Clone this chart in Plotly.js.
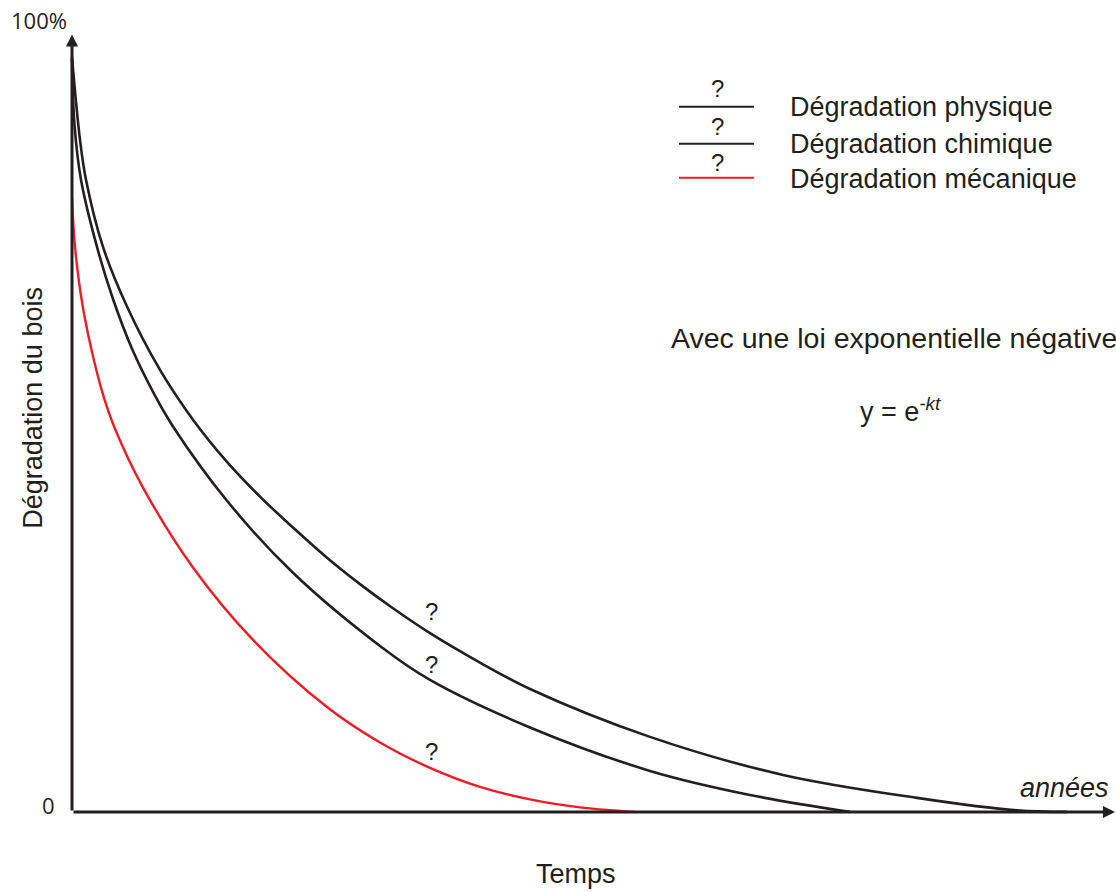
<!DOCTYPE html>
<html><head><meta charset="utf-8">
<script src="https://cdn.plot.ly/plotly-3.0.1.min.js"></script>
<style>html,body{margin:0;padding:0;background:#fff}#chart{width:1116px;height:892px}</style>
</head><body><div id="chart"></div>
<script>
// Values (time in arbitrary units, degradation in %)
const physiqueT = [0, 0.8, 1.4, 3.1, 5.5, 8.8, 12.1, 15.5, 18.8, 22.1, 25.5, 28.8, 32.1, 35.8, 40.8, 45.8, 57.8, 71.1, 84.5, 94.5, 99.5];
const physiqueY = [100, 89.1, 83.8, 74.9, 67.0, 58.6, 52.0, 46.4, 41.8, 37.7, 33.7, 30.2, 27.0, 23.7, 19.8, 16.3, 9.95, 4.9, 1.86, 0.2, 0];
const chimiqueT = [0, 0.25, 0.9, 2.5, 4.1, 6.1, 8.3, 10.1, 15.5, 22.1, 30.9, 35.8, 45.8, 57.8, 67.8, 77.8];
const chimiqueY = [100, 91.1, 83.8, 74.9, 68.0, 61.1, 55.2, 51.1, 41.25, 31.7, 21.9, 17.5, 11.2, 5.44, 2.25, 0];
const mecaniqueT = [0, 0.3, 1.1, 2.4, 3.2, 4.3, 7.1, 12.1, 18.1, 25.5, 30.8, 35.8, 40.8, 45.8, 50.8, 56.3];
const mecaniqueY = [81.4, 74.9, 66.8, 58.75, 54.9, 50.8, 43.0, 32.4, 22.8, 13.9, 9.2, 5.84, 3.32, 1.66, 0.6, 0];
const seriesNames = ['Dégradation physique', 'Dégradation chimique', 'Dégradation mécanique'];

const BLACK = '#231f20', RED = '#ed1c24';
const FONT = 'Liberation Sans, Arial, sans-serif';
const FONT2 = 'Open Sans, sans-serif';
// pixel -> paper helpers (text placement only)
const L = 62, B = 64.92, W = 1054, H = 892 - 35.38 - 64.92;
const PPX = p => (p - L) / W;
const PPY = p => (892 - B - p) / H;
// pixel -> axis helpers (legend line placement only)
const PX = p => -1 + (p - 62) / 10;
const PY = p => (812 - p) / 7.54;

const traces = [
  {x: physiqueT, y: physiqueY, name: seriesNames[0], mode: 'lines', line: {color: BLACK, width: 2.6, shape: 'spline', smoothing: 1}},
  {x: chimiqueT, y: chimiqueY, name: seriesNames[1], mode: 'lines', line: {color: BLACK, width: 2.6, shape: 'spline', smoothing: 1}},
  {x: mecaniqueT, y: mecaniqueY, name: seriesNames[2], mode: 'lines', line: {color: RED, width: 2.4, shape: 'spline', smoothing: 1}}
];

function txt(px, py, text, size, opts) {
  return Object.assign({x: PPX(px), y: PPY(py), xref: 'paper', yref: 'paper', text: text, showarrow: false,
    font: {family: FONT, size: size, color: BLACK}, xanchor: 'center', yanchor: 'middle'}, opts || {});
}

const annotations = [
  // axes with arrows
  {x: 104.3, y: 0, ax: 0, ay: 0, xref: 'x', yref: 'y', axref: 'x', ayref: 'y', text: '', showarrow: true,
   arrowhead: 2, arrowsize: 0.8, arrowwidth: 3, arrowcolor: BLACK, standoff: 0, startstandoff: 0},
  {x: 0, y: PY(35), ax: 0, ay: 0, xref: 'x', yref: 'y', axref: 'x', ayref: 'y', text: '', showarrow: true,
   arrowhead: 2, arrowsize: 0.8, arrowwidth: 3, arrowcolor: BLACK, standoff: 0, startstandoff: 0},
  txt(39, 20, '100%', 22, {font: {family: FONT2, size: 22, color: BLACK}}),
  txt(48, 805, '0', 22, {font: {family: FONT2, size: 22, color: BLACK}}),
  txt(1064, 788, '<i>années</i>', 27),
  txt(576, 874, 'Temps', 27),
  txt(33, 408, 'Dégradation du bois', 27, {textangle: -90}),
  // legend
  txt(717, 89, '?', 24), txt(717, 127, '?', 24), txt(717, 163, '?', 24),
  txt(788, 107, seriesNames[0], 27, {xanchor: 'left'}),
  txt(788, 144, seriesNames[1], 27, {xanchor: 'left'}),
  txt(788, 179, seriesNames[2], 27, {xanchor: 'left'}),
  // curve labels
  txt(431, 612, '?', 24), txt(431, 665, '?', 24), txt(431, 752, '?', 24),
  // equation
  txt(1119, 338, 'Avec une loi exponentielle négative', 28.5, {xanchor: 'right'}),
  txt(900, 410, 'y = e<sup><i>-kt</i></sup>', 27)
];

const shapes = [
  {type: 'line', xref: 'x', yref: 'y', x0: PX(679), x1: PX(754), y0: PY(107), y1: PY(107), line: {color: BLACK, width: 2}},
  {type: 'line', xref: 'x', yref: 'y', x0: PX(679), x1: PX(754), y0: PY(144), y1: PY(144), line: {color: BLACK, width: 2}},
  {type: 'line', xref: 'x', yref: 'y', x0: PX(679), x1: PX(754), y0: PY(178), y1: PY(178), line: {color: RED, width: 2}}
];

const layout = {
  width: 1116, height: 892,
  margin: {l: L, r: 0, t: 35.38, b: B, pad: 0},
  paper_bgcolor: '#ffffff', plot_bgcolor: '#ffffff',
  showlegend: false,
  xaxis: {range: [-1, 104.4], visible: false, fixedrange: true},
  yaxis: {range: [-2, 103], visible: false, fixedrange: true},
  annotations: annotations,
  shapes: shapes
};
Plotly.newPlot('chart', traces, layout, {staticPlot: true, displayModeBar: false});
</script></body></html>
